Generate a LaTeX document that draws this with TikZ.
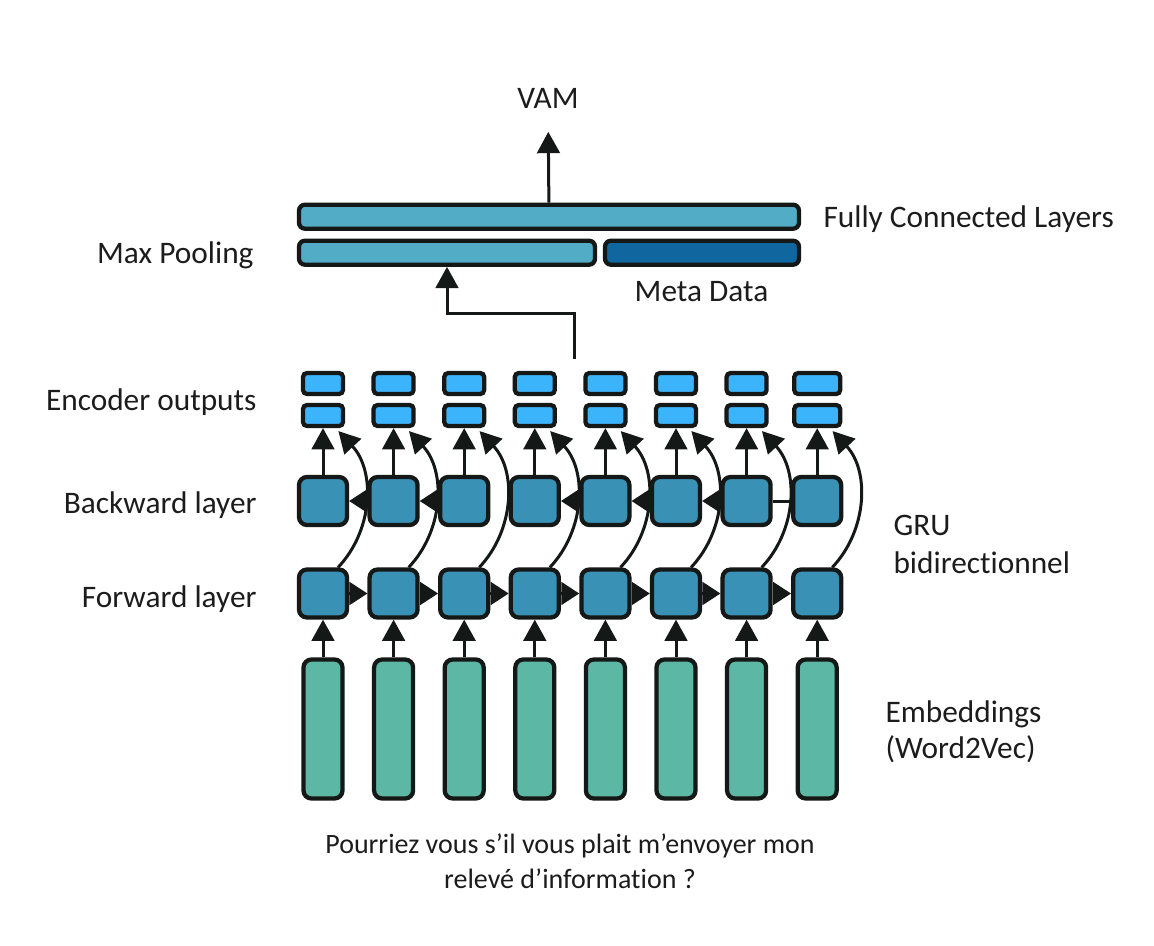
\documentclass[tikz,border=0pt]{standalone}
\usepackage{fontspec}
\setmainfont{Carlito}[Ligatures={NoCommon}]
\usetikzlibrary{arrows.meta}

\definecolor{ink}{RGB}{28,28,28}
\definecolor{outline}{RGB}{20,24,22}
\definecolor{hidden}{RGB}{57,146,181}
\definecolor{encout}{RGB}{59,180,252}
\definecolor{embed}{RGB}{92,184,165}
\definecolor{fcbar}{RGB}{82,172,198}
\definecolor{metabar}{RGB}{16,103,160}

\tikzset{every picture/.style={line width=0.75pt}}
\tikzset{
  boxbase/.style={draw=outline, line width=3.2pt, inner sep=0pt},
  cellbox/.style={boxbase, fill=hidden, rounded corners=6pt, minimum width=36pt, minimum height=36pt},
  outbox/.style={boxbase, fill=encout, rounded corners=3pt, minimum height=15.75pt},
  embbox/.style={boxbase, fill=embed, rounded corners=6pt, minimum width=29.25pt, minimum height=104.25pt},
  barbox/.style={boxbase, rounded corners=4.5pt, minimum height=18pt},
  link/.style={draw=outline, line width=2.25pt, -{Triangle[length=16pt,width=17pt]}},
  hlink/.style={draw=outline, line width=2.25pt, -{Triangle[length=13.5pt,width=17pt]}},
  plainlink/.style={draw=outline, line width=2.25pt},
  lbl/.style={text=ink, inner sep=0pt, font=\fontsize{23.5}{28}\selectfont},
  sentence/.style={text=ink, inner sep=0pt, font=\fontsize{21}{26}\selectfont},
}

\begin{document}
\begin{tikzpicture}[x=0.75pt,y=0.75pt,yscale=-1,xscale=1]
\useasboundingbox (0,0) rectangle (1154,946);

%Shape: columns (embedding, forward, backward, two encoder outputs)
\foreach \i in {1,...,8}{
  \pgfmathsetmacro{\cx}{323+70.6*(\i-1)}
  \pgfmathsetmacro{\ow}{ifthenelse(\i==8,34.5,30)}
  \node (e\i) [embbox] at (\cx,729) {};
  \node (f\i) [cellbox] at (\cx,593.5) {};
  \node (b\i) [cellbox] at (\cx,501) {};
  \node (ol\i) [outbox, minimum width=\ow pt] at (\cx,415.5) {};
  \node (ou\i) [outbox, minimum width=\ow pt] at (\cx,383.5) {};
}

%Shape: bars
\node (fc) [barbox, fill=fcbar, minimum width=375pt] at (549,216.7) {};
\node (mp) [barbox, fill=fcbar, minimum width=222pt] at (447,252.7) {};
\node (md) [barbox, fill=metabar, minimum width=145.5pt] at (702,252.7) {};

%Straight Lines: embeddings to forward, backward to outputs
\foreach \i in {1,...,8}{
  \draw [link] (e\i) -- (f\i);
  \draw [link] (b\i) -- (ol\i);
  \draw [link, shorten >=3pt] (f\i.60) .. controls +(35,-37) and +(40,43) .. (ol\i.-45);
}

%Straight Lines: recurrent links
\foreach \i/\j in {1/2,2/3,3/4,4/5,5/6,6/7,7/8}{
  \draw [hlink] (f\i) -- (f\j);
}
\foreach \i/\j in {2/1,3/2,5/4,6/5,7/6}{
  \draw [hlink] (b\i) -- (b\j);
}
\draw [plainlink] (b8) -- (b7);

%Straight Lines: encoder to max pooling, dense to output
\coordinate (enc) at (574.3,359);
\coordinate (bend) at (447,313.3);
\draw [link] (enc) |- (bend) -- (mp);

% Text Node
\node (vam) [lbl, anchor=base] at (548,108) {VAM};
\draw [link, shorten >=17.5pt] (fc) -- (vam);

% Text Node
\node (fcl) [lbl, anchor=base west] at (823,227) {Fully Connected Layers};
% Text Node
\node (mpl) [lbl, anchor=base east] at (254,263.3) {Max Pooling};
% Text Node
\node (mdl) [lbl, anchor=base] at (701.5,301.7) {Meta Data};
% Text Node
\node (eol) [lbl, anchor=base east] at (257,410) {Encoder outputs};
% Text Node
\node (bwl) [lbl, anchor=base east] at (257,513) {Backward layer};
% Text Node
\node (fwl) [lbl, anchor=base east] at (257,607) {Forward layer};
% Text Node
\node (gru) [lbl, anchor=base west] at (893,535) {GRU};
\node (bidir) [lbl, anchor=base west] at (893,573) {bidirectionnel};
% Text Node
\node (embl) [lbl, anchor=base west] at (885,722) {Embeddings};
\node (w2v) [lbl, anchor=base west] at (885,758) {(Word2Vec)};
% Text Node
\node (sent1) [sentence, anchor=base] at (570,853) {Pourriez vous s’il vous plait m’envoyer mon};
\node (sent2) [sentence, anchor=base] at (570,888) {relevé d’information ?};

\end{tikzpicture}
\end{document}
